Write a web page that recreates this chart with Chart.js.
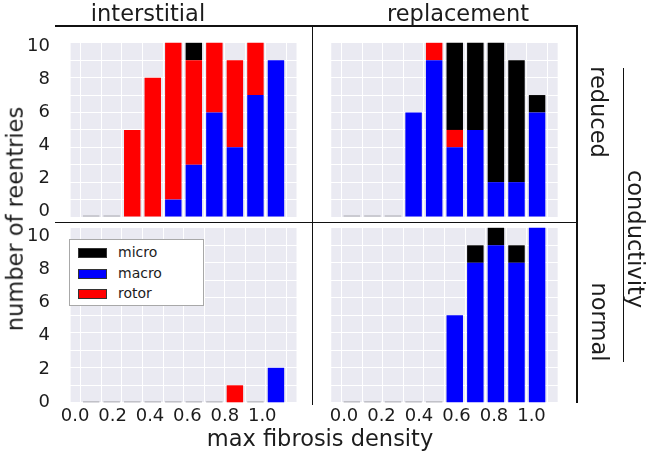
<!DOCTYPE html>
<html>
<head>
<meta charset="utf-8">
<script src="https://cdn.jsdelivr.net/npm/chart.js@4.4.0/dist/chart.umd.min.js"></script>
<style>
  html, body { margin: 0; padding: 0; background: #fff; }
  #page { position: relative; width: 653px; height: 452px; overflow: hidden;
          font-family: 'DejaVu Sans', sans-serif; color: #1c1c1c; }
  canvas { position: absolute; left: 0; top: 0; }
  .line { position: absolute; background: #111; z-index: 5; }
  .txt { position: absolute; white-space: nowrap; font-size: 22.5px; line-height: 1; z-index: 6; }
  .center { transform: translateX(-50%); }
  .rot-down { transform: translate(-50%, -50%) rotate(90deg); }
  .rot-up { transform: translate(-50%, -50%) rotate(-90deg); }
  #legend { position: absolute; left: 69px; top: 239px; width: 133px; height: 65px;
            background: #fff; border: 1px solid #a8a8a8; z-index: 6; }
  .item { position: absolute; left: 8px; height: 14px; font-size: 14px; line-height: 14px; }
  .swatch { position: absolute; left: 0; top: 2px; width: 27px; height: 8px; border: 1px solid #333; }
  .item span { position: absolute; left: 40px; top: -1px; }
</style>
</head>
<body>
<div id="page">
  <canvas id="c1" width="653" height="452"></canvas>
  <canvas id="c2" width="653" height="452"></canvas>
  <canvas id="c3" width="653" height="452"></canvas>
  <canvas id="c4" width="653" height="452"></canvas>

  <div class="line" style="left:55px; top:25px; width:522px; height:1.5px;"></div>
  <div class="line" style="left:55px; top:221.5px; width:522px; height:1.5px;"></div>
  <div class="line" style="left:311.5px; top:25px; width:1.5px; height:380px;"></div>
  <div class="line" style="left:576px; top:25px; width:1.5px; height:378px;"></div>
  <div class="line" style="left:622.5px; top:68px; width:1.5px; height:294px;"></div>

  <div class="txt center" style="left:148px; top:2px;">interstitial</div>
  <div class="txt center" style="left:458px; top:2px;">replacement</div>
  <div class="txt center" style="left:320px; top:427px;">max fibrosis density</div>
  <div class="txt rot-up" style="left:15px; top:219px;">number of reentries</div>
  <div class="txt rot-down" style="left:599px; top:112px;">reduced</div>
  <div class="txt rot-down" style="left:600px; top:322px;">normal</div>
  <div class="txt rot-down" style="left:636px; top:239px;">conductivity</div>

  <div id="legend"></div>
</div>

<script>
// x positions of the bars (max fibrosis density)
const fibrosis = [0.1, 0.2, 0.3, 0.4, 0.5, 0.6, 0.7, 0.8, 0.9, 1.0];

// interstitial fibrosis, reduced conductivity
const interstitialReducedMacro = [0, 0, 0, 0, 1, 3, 6, 4, 7, 9];
const interstitialReducedRotor = [0, 0, 5, 8, 9, 6, 4, 5, 3, 0];
const interstitialReducedMicro = [0, 0, 0, 0, 0, 1, 0, 0, 0, 0];

// replacement fibrosis, reduced conductivity
const replacementReducedMacro = [0, 0, 0, 6, 9, 4, 5, 2, 2, 6];
const replacementReducedRotor = [0, 0, 0, 0, 1, 1, 0, 0, 0, 0];
const replacementReducedMicro = [0, 0, 0, 0, 0, 5, 5, 8, 7, 1];

// interstitial fibrosis, normal conductivity
const interstitialNormalMacro = [0, 0, 0, 0, 0, 0, 0, 0, 0, 2];
const interstitialNormalRotor = [0, 0, 0, 0, 0, 0, 0, 1, 0, 0];
const interstitialNormalMicro = [0, 0, 0, 0, 0, 0, 0, 0, 0, 0];

// replacement fibrosis, normal conductivity
const replacementNormalMacro = [0, 0, 0, 0, 0, 5, 8, 9, 8, 10];
const replacementNormalRotor = [0, 0, 0, 0, 0, 0, 0, 0, 0, 0];
const replacementNormalMicro = [0, 0, 0, 0, 0, 0, 1, 1, 1, 0];

// tick labels
const xTickLabels = [0.0, 0.2, 0.4, 0.6, 0.8, 1.0];
const yTickLabels = [0, 2, 4, 6, 8, 10];

// series (stack order bottom -> top) and legend order
const seriesNames = ['macro', 'rotor', 'micro'];
const seriesColors = { macro: '#0000ff', rotor: '#ff0000', micro: '#000000' };
const legendOrder = ['micro', 'macro', 'rotor'];

const X_SPAN = 1.1;   // axis runs 0 .. 1.1
const Y_SPAN = 10;    // axis runs 0 .. 10
const BG_COLOR = '#eaeaf2';
const LABEL_W = 45;   // room kept for y tick labels
const LABEL_H = 28;   // room kept for x tick labels

// layout of each panel, in page pixels
// bg: [left, right, top, bottom] of the grey plot area
// area: [left, right, top, bottom] of the chart area (a bit larger, to leave room for labels)
const panels = [
  { id: 'c1', series: [interstitialReducedMacro, interstitialReducedRotor, interstitialReducedMicro],
    bg: [60.6, 307, 42.8, 217], area: [52, 310, 36, 220], yLab: [211, 46] },
  { id: 'c2', series: [replacementReducedMacro, replacementReducedRotor, replacementReducedMicro],
    bg: [321, 568, 42.8, 217], area: [316, 572, 36, 220] },
  { id: 'c3', series: [interstitialNormalMacro, interstitialNormalRotor, interstitialNormalMicro],
    bg: [60.6, 307, 227.8, 402.8], area: [52, 310, 225, 405], yLab: [402, 236.5], xLab: [54, 278.5] },
  { id: 'c4', series: [replacementNormalMacro, replacementNormalRotor, replacementNormalMicro],
    bg: [321, 568, 227.8, 402.8], area: [316, 572, 225, 405], xLab: [324, 549] },
];

// grey background only over the 0..1.1 x 0..10 region
const bgPlugin = {
  id: 'bgPlugin',
  beforeDraw(chart) {
    const { ctx, scales: { x, y } } = chart;
    const l = x.getPixelForValue(0), r = x.getPixelForValue(X_SPAN);
    const t = y.getPixelForValue(Y_SPAN), b = y.getPixelForValue(0);
    ctx.save();
    ctx.fillStyle = BG_COLOR;
    ctx.fillRect(l, t, r - l, b - t);
    ctx.restore();
  }
};

// empty bars show as a thin grey dash on the baseline
const zeroDash = {
  id: 'zeroDash',
  afterDatasetsDraw(chart) {
    const { ctx, scales: { x, y } } = chart;
    const y0 = y.getPixelForValue(0);
    const bars = chart.getDatasetMeta(0).data;
    ctx.save();
    ctx.strokeStyle = '#bfbfc6';
    ctx.lineWidth = 1.5;
    fibrosis.forEach((f, i) => {
      const total = chart.data.datasets.reduce((s, d) => s + d.data[i].y, 0);
      if (total === 0) {
        const px = x.getPixelForValue(f);
        const half = bars[i].width / 2;
        ctx.beginPath();
        ctx.moveTo(px - half, y0 - 1);
        ctx.lineTo(px + half, y0 - 1);
        ctx.stroke();
      }
    });
    ctx.restore();
  }
};

const tickFont = { family: 'DejaVu Sans', size: 18 };
const tickColor = '#1c1c1c';
const gridX = [];
for (let i = 0; i <= 11; i++) gridX.push(Math.round(i * 10) / 100);
const gridY = [];
for (let i = 0; i <= Y_SPAN; i++) gridY.push(i);

function makeChart(p) {
  const [bl, br, bt, bb] = p.bg;
  const [cl, cr, ct, cb] = p.area;
  const kx = (br - bl) / X_SPAN;
  const ky = (bb - bt) / Y_SPAN;

  const scales = {
    x: {
      type: 'linear', stacked: true,
      min: -(bl - cl) / kx, max: X_SPAN + (cr - br) / kx,
      ticks: { display: false },
      grid: { color: '#ffffff', lineWidth: 1, drawTicks: false },
      border: { display: false },
      afterBuildTicks: s => { s.ticks = gridX.map(v => ({ value: v })); },
      afterFit: s => { s.height = 0; },
    },
    y: {
      type: 'linear', stacked: true, position: 'left',
      min: -(cb - bb) / ky, max: Y_SPAN + (bt - ct) / ky,
      ticks: { display: false },
      grid: { color: '#ffffff', lineWidth: 1, drawTicks: false },
      border: { display: false },
      afterBuildTicks: s => { s.ticks = gridY.map(v => ({ value: v })); },
      afterFit: s => { s.width = 0; },
    },
  };

  let padLeft = cl;
  let padBottom = 452 - cb;

  if (p.yLab) {
    const [ly0, ly10] = p.yLab;
    const k = (ly0 - ly10) / Y_SPAN;
    scales.y2 = {
      type: 'linear', position: 'left',
      min: (ly0 - cb) / k, max: (ly0 - ct) / k,
      ticks: { font: tickFont, color: tickColor, padding: 2 },
      grid: { display: false, drawTicks: false },
      border: { display: false },
      afterBuildTicks: s => { s.ticks = yTickLabels.map(v => ({ value: v })); },
      afterFit: s => { s.width = LABEL_W; },
    };
    padLeft -= LABEL_W;
  }
  if (p.xLab) {
    const [lx0, lx1] = p.xLab;
    const k = lx1 - lx0;
    scales.x2 = {
      type: 'linear', position: 'bottom',
      min: (cl - lx0) / k, max: (cr - lx0) / k,
      ticks: { font: tickFont, color: tickColor, padding: 1, maxRotation: 0,
               callback: v => v.toFixed(1) },
      grid: { display: false, drawTicks: false },
      border: { display: false },
      afterBuildTicks: s => { s.ticks = xTickLabels.map(v => ({ value: v })); },
      afterFit: s => { s.height = LABEL_H; },
    };
    padBottom -= LABEL_H;
  }

  const datasets = seriesNames.map((name, j) => ({
    label: name,
    data: fibrosis.map((f, i) => ({ x: f, y: p.series[j][i] })),
    backgroundColor: seriesColors[name],
    borderWidth: 0,
    categoryPercentage: 1.0,
    barPercentage: 0.8,
    xAxisID: 'x',
    yAxisID: 'y',
  }));

  return new Chart(document.getElementById(p.id), {
    type: 'bar',
    data: { datasets },
    options: {
      responsive: false,
      animation: false,
      devicePixelRatio: 1,
      layout: { padding: { left: padLeft, right: 653 - cr, top: ct, bottom: padBottom }, autoPadding: false },
      scales,
      plugins: { legend: { display: false }, tooltip: { enabled: false } },
    },
    plugins: [bgPlugin, zeroDash],
  });
}

panels.forEach(makeChart);

// legend in the lower-left panel
const legendEl = document.getElementById('legend');
legendOrder.forEach((name, i) => {
  const item = document.createElement('div');
  item.className = 'item';
  item.style.top = (6 + i * 20.5) + 'px';
  item.innerHTML = '<div class="swatch" style="background:' + seriesColors[name] + '"></div><span>' + name + '</span>';
  legendEl.appendChild(item);
});
</script>
</body>
</html>
